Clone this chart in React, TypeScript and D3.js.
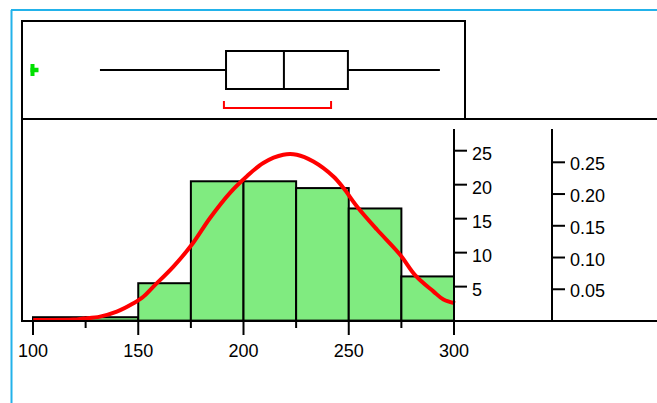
import React from "react";
import * as d3 from "d3";

const binEdges = [100, 125, 150, 175, 200, 225, 250, 275, 300];
const binCounts = [0.5, 0.5, 5.5, 20.5, 20.5, 19.5, 16.5, 6.5];
const xTicksMajor = [100, 150, 200, 250, 300];
const xTicksMinor = [125, 175, 225, 275];
const countTicks = [5, 10, 15, 20, 25];
const densityTicks = [0.05, 0.1, 0.15, 0.2, 0.25];

const curveX = [100.1, 119.1, 123.9, 131.8, 139.8, 147.7, 152.4, 157.2, 166.7, 175.4, 184.1, 193.6, 201.5, 209.4, 218.9, 225.3, 233.2, 242.7, 247.5, 253.9, 263.4, 274.4, 281.5, 290.2, 295.0, 300.5];
const curveY = [0.1, 0.15, 0.3, 0.58, 1.31, 2.55, 3.5, 5.0, 7.95, 11.15, 15.1, 18.8, 21.2, 23.2, 24.4, 24.4, 23.4, 21.2, 19.5, 16.8, 13.4, 9.7, 6.7, 4.3, 3.1, 2.55];

// box plot summary
const outliers = [100];
const whiskerLow = 131.8;
const q1 = 191.7;
const median = 219.2;
const q3 = 249.6;
const whiskerHigh = 293.3;
const shortestHalf = [190.7, 241.6];

export default function App() {
  const x = d3.scaleLinear().domain([100, 300]).range([33, 454]);
  const y = d3.scaleLinear().domain([0, 25]).range([320.6, 150.7]);
  const yd = d3.scaleLinear().domain([0, 0.25]).range([321, 162.3]);
  const line = d3
    .line<number>()
    .x((_, i) => x(curveX[i]))
    .y((_, i) => y(curveY[i]))
    .curve(d3.curveCatmullRom);
  const font = "Liberation Sans, Arial, sans-serif";
  const fs = 18;
  const bw = 2;
  const boxMid = 70;
  return (
    <svg
      width={657}
      height={403}
      style={{ position: "absolute", left: 0, top: 0, background: "#fff" }}
    >
      {/* blue frame */}
      <line x1={11.5} y1={10} x2={11.5} y2={403} stroke="#22b2ea" strokeWidth={2} />
      <line x1={11} y1={10} x2={657} y2={10} stroke="#22b2ea" strokeWidth={2} />

      {/* bars */}
      {binCounts.map((c, i) => (
        <rect
          key={i}
          x={x(binEdges[i])}
          y={y(c)}
          width={x(binEdges[i + 1]) - x(binEdges[i])}
          height={y(0) - y(c)}
          fill="#80eb80"
          stroke="#000"
          strokeWidth={bw}
        />
      ))}

      {/* normal curve */}
      <path d={line(curveX) || ""} fill="none" stroke="#ff0000" strokeWidth={4} strokeLinejoin="round" />

      {/* frames */}
      <line x1={22} y1={21} x2={465} y2={21} stroke="#000" strokeWidth={bw} />
      <line x1={465} y1={20} x2={465} y2={119} stroke="#000" strokeWidth={bw} />
      <line x1={22} y1={119} x2={657} y2={119} stroke="#000" strokeWidth={bw} />
      <line x1={22} y1={20} x2={22} y2={322} stroke="#000" strokeWidth={bw} />
      <line x1={22} y1={321} x2={657} y2={321} stroke="#000" strokeWidth={bw} />

      {/* x axis ticks */}
      {xTicksMajor.map((t) => (
        <g key={t}>
          <line x1={x(t)} y1={321} x2={x(t)} y2={335} stroke="#000" strokeWidth={bw} />
          <text x={x(t)} y={356.5} textAnchor="middle" fontFamily={font} fontSize={fs} fill="#000">
            {t}
          </text>
        </g>
      ))}
      {xTicksMinor.map((t) => (
        <line key={t} x1={x(t)} y1={321} x2={x(t)} y2={328} stroke="#000" strokeWidth={bw} />
      ))}

      {/* count axis */}
      <line x1={454} y1={129} x2={454} y2={321} stroke="#000" strokeWidth={bw} />
      {countTicks.map((t) => (
        <g key={t}>
          <line x1={454} y1={y(t)} x2={467} y2={y(t)} stroke="#000" strokeWidth={bw} />
          <text x={472} y={y(t) + 9} fontFamily={font} fontSize={fs} fill="#000">
            {t}
          </text>
        </g>
      ))}

      {/* density axis */}
      <line x1={552} y1={129} x2={552} y2={321} stroke="#000" strokeWidth={bw} />
      {densityTicks.map((t) => (
        <g key={t}>
          <line x1={552} y1={yd(t)} x2={565} y2={yd(t)} stroke="#000" strokeWidth={bw} />
          <text x={570} y={yd(t) + 8} fontFamily={font} fontSize={fs} fill="#000">
            {t.toFixed(2)}
          </text>
        </g>
      ))}

      {/* box plot */}
      <line x1={x(whiskerLow)} y1={boxMid} x2={x(q1)} y2={boxMid} stroke="#000" strokeWidth={bw} />
      <line x1={x(q3)} y1={boxMid} x2={x(whiskerHigh)} y2={boxMid} stroke="#000" strokeWidth={bw} />
      <rect x={x(q1)} y={51} width={x(q3) - x(q1)} height={38} fill="none" stroke="#000" strokeWidth={bw} />
      <line x1={x(median)} y1={51} x2={x(median)} y2={89} stroke="#000" strokeWidth={bw} />
      <path
        d={`M${x(shortestHalf[0])},101 V108 H${x(shortestHalf[1])} V101`}
        fill="none"
        stroke="#ff0000"
        strokeWidth={2}
      />
      {outliers.map((o, i) => (
        <g key={i}>
          <line x1={x(o) - 0.5} y1={64} x2={x(o) - 0.5} y2={76} stroke="#00e000" strokeWidth={4} />
          <line x1={x(o) - 2.5} y1={70} x2={x(o) + 5.5} y2={70} stroke="#00e000" strokeWidth={4.5} />
        </g>
      ))}
    </svg>
  );
}
